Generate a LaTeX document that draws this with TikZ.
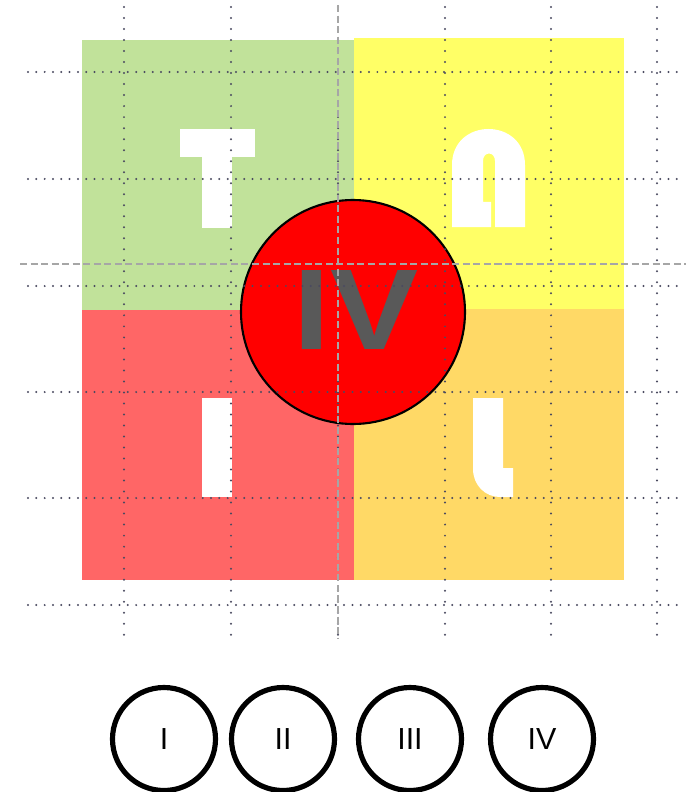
\documentclass[tikz,border=0pt]{standalone}
\usepackage{fontspec}
\setmainfont{Liberation Sans}
\definecolor{quadgreen}{HTML}{C1E29A}
\definecolor{quadyellow}{HTML}{FFFF66}
\definecolor{quadred}{HTML}{FF6666}
\definecolor{quadorange}{HTML}{FFD966}
\definecolor{dotgrey}{HTML}{4A4A60}
\definecolor{textgrey}{HTML}{595959}
\tikzset{
	gridline/.style={dotgrey, line width=1.9pt, line cap=round, dash pattern=on 0pt off 7.1pt},
	vgridline/.style={dotgrey, line width=1.9pt, line cap=round, dash pattern=on 0pt off 9.4pt},
	axisline/.style={black!35, line width=1.2pt, dash pattern=on 6pt off 3pt},
	numcircle/.style={circle, draw, line width=4.4pt, minimum size=3.09cm, inner sep=0pt, font=\fontsize{26}{26}\selectfont},
}
\begin{document}
\begin{tikzpicture}[x=0.03cm, y=-0.03cm]
	\useasboundingbox (0,0) rectangle (688,792);
	% quadrants
	\fill[quadgreen] (82,40) rectangle (354,310);
	\fill[quadyellow] (354,38) rectangle (624,309);
	\fill[quadred] (82,310) rectangle (354,580);
	\fill[quadorange] (354,309) rectangle (624,580);
	% white glyphs
	\fill[white] (180,129) rectangle (255,157);
	\fill[white] (202,156) rectangle (232,228);
	\fill[white] (452,227) -- (452,165) .. controls (452,117) and (525,117) .. (525,165) -- (525,227) -- (495,227) -- (495,161) .. controls (495,151) and (483,151) .. (483,161) -- (483,202) -- (491,202) -- (491,227) -- cycle;
	\fill[white] (202,398) rectangle (232,497);
	\fill[white] (473,398) -- (503,398) -- (503,468) -- (513,468) -- (513,497) -- (500,497) .. controls (485,497) and (473,485) .. (473,469) -- cycle;
	% centre circle
	\node[circle, draw, fill=red, line width=1.8pt, minimum size=6.72cm, inner sep=0pt] (centre) at (353,312) {};
	\node[textgrey, font=\fontsize{98}{98}\selectfont\bfseries] (centrelabel) at (356,310) {\scalebox{1.15}[1]{IV}};
	% grid
	\foreach \x in {124,231,338,445,551,657}
		\draw[vgridline] (\x,7) -- (\x,638);
	\foreach \y in {72,179,286,392,498,605}
		\draw[gridline] (28,\y) -- (682,\y);
	\draw[axisline] (20,264) -- (686,264);
	\draw[axisline] (338,5) -- (338,638);
	% numbered circles
	\node[numcircle] (one) at (164,739) {I};
	\node[numcircle] (two) at (283,739) {II};
	\node[numcircle] (three) at (410,739) {III};
	\node[numcircle] (four) at (542,739) {IV};
\end{tikzpicture}
\end{document}
